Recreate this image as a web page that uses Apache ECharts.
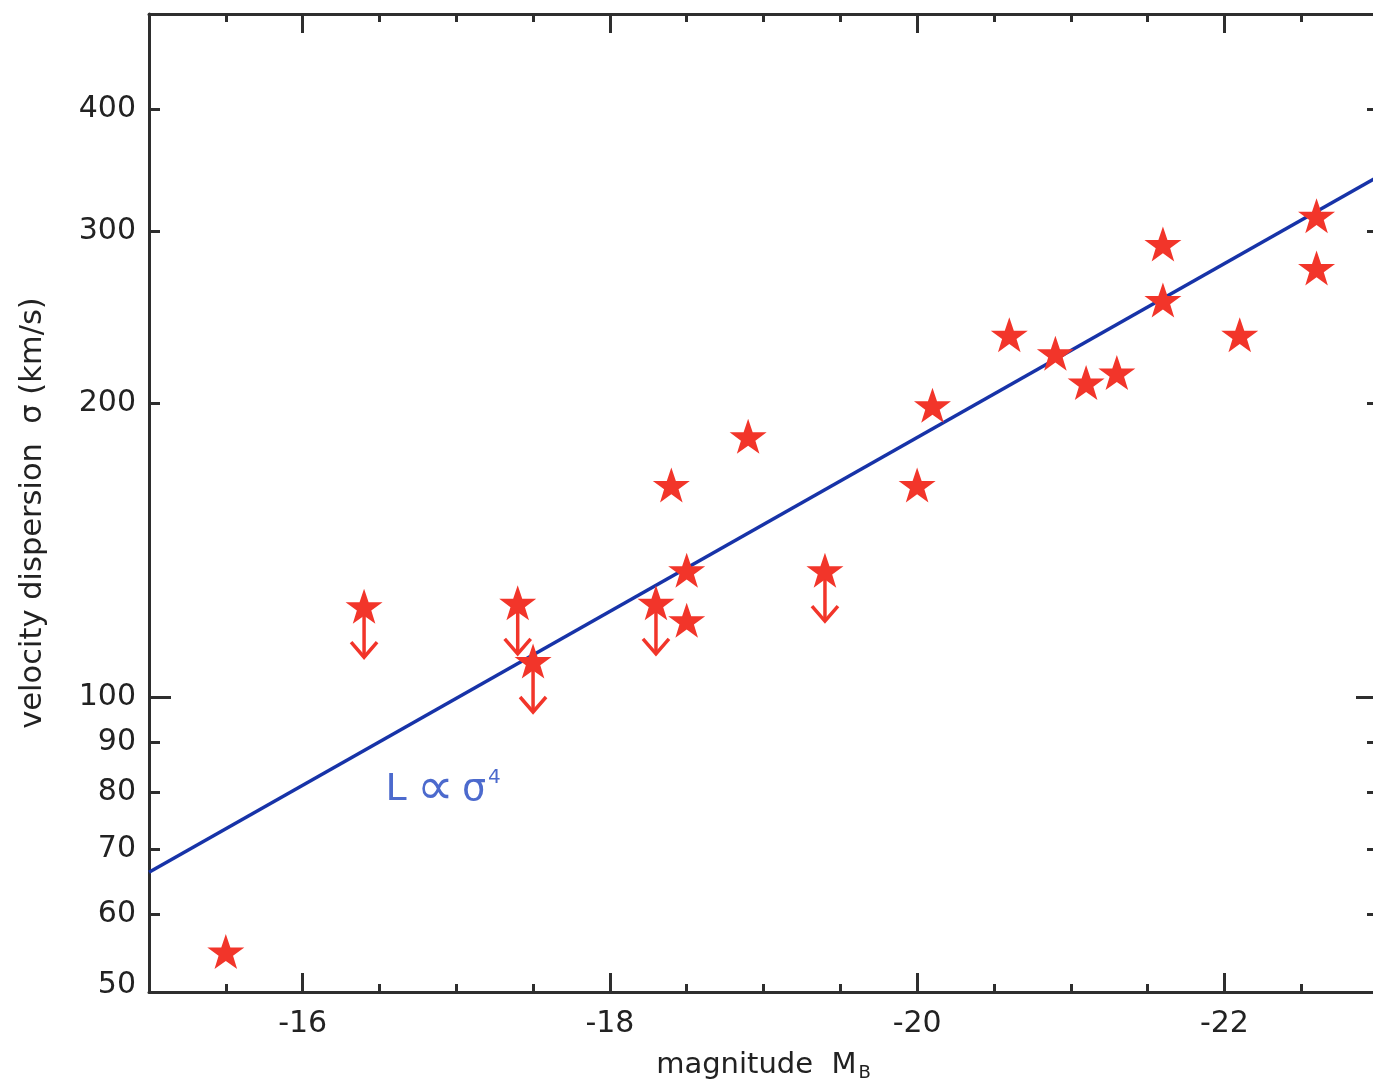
<!DOCTYPE html>
<html>
<head>
<meta charset="utf-8">
<script src="https://cdn.jsdelivr.net/npm/echarts@6/dist/echarts.min.js"></script>
<style>
html,body{margin:0;padding:0;background:#fff;}
#chart{width:1373px;height:1080px;}
</style>
</head>
<body>
<div id="chart"></div>
<script>
// ---- data ----
const magB = [-15.5, -16.4, -17.4, -17.5, -18.3, -18.4, -18.5, -18.5, -18.9, -19.4, -20.0, -20.1, -20.6, -20.9, -21.1, -21.3, -21.6, -21.6, -22.1, -22.6, -22.6];
const sigma = [55, 124, 125, 109, 125, 165, 135, 120, 185, 135, 165, 199, 235, 225, 210, 215, 291, 255, 235, 311, 275];
const isUpperLimit = [0, 1, 1, 1, 1, 0, 0, 0, 0, 1, 0, 0, 0, 0, 0, 0, 0, 0, 0, 0, 0];
const fitMag = [-15, -23];
const fitSigma = [66.3, 341];
const xTickLabels = [-16, -18, -20, -22];
const yTickLabels = [50, 60, 70, 80, 90, 100, 200, 300, 400];
const yMinorTicks = [50, 60, 70, 80, 90, 200, 300, 400];
const yMajorTicks = [100];
const annotationPos = [-16.54, 80.4];

const RED = '#f2352a';
const BLUE = '#1733a8';
const AX = '#2e2e2e';
const TXT = '#222222';
const FONT = 'DejaVu Sans';
const ANN = '#1f45c0';

const starPath = 'path://M50,0 L61.8,35.1 L98.1,35.1 L68.8,56.8 L79.4,91 L50,70 L20.6,91 L31.2,56.8 L1.9,35.1 L38.2,35.1 Z';

const points = magB.map((m, i) => [m, sigma[i]]);
const limits = points.filter((p, i) => isUpperLimit[i]);
const fitLine = fitMag.map((m, i) => [m, fitSigma[i]]);

function xAxisBase(pos, tickLen, tickVals, showLine, showLabel) {
  const ax = {
    type: 'value', position: pos, min: -23, max: -15, inverse: true, interval: 0.5,
    axisLine: {show: showLine, onZero: false, lineStyle: {color: AX, width: 3}},
    axisTick: {show: true, inside: true, length: tickLen, lineStyle: {color: AX, width: 3}},
    axisLabel: {show: false},
    splitLine: {show: false}
  };
  if (tickVals) ax.axisTick.customValues = tickVals;
  if (showLabel) {
    ax.axisLabel = {show: true, customValues: xTickLabels, margin: 17, color: TXT,
      fontFamily: FONT, fontSize: 30, formatter: v => String(v)};
    ax.name = '{t|magnitude  M}{s|B}';
    ax.nameLocation = 'middle';
    ax.nameGap = 56;
    ax.nameTextStyle = {color: TXT, fontFamily: FONT,
      rich: {t: {fontSize: 29, fontFamily: FONT, color: TXT},
             s: {fontSize: 18, fontFamily: FONT, color: TXT, padding: [16, 0, 0, 2]}}};
  }
  return ax;
}

function yAxisBase(pos, tickLen, tickVals, showLine, showLabel) {
  const ax = {
    type: 'log', logBase: 10, position: pos, min: 50, max: 500,
    axisLine: {show: showLine, onZero: false, lineStyle: {color: AX, width: 3}},
    axisTick: {show: true, inside: true, length: tickLen, customValues: tickVals, lineStyle: {color: AX, width: 3}},
    axisLabel: {show: false},
    splitLine: {show: false},
    minorTick: {show: false}
  };
  if (showLabel) {
    ax.axisLabel = {show: true, customValues: yTickLabels, margin: 13, color: TXT,
      fontFamily: FONT, fontSize: 30,
      formatter: v => (Math.round(v) === 50 ? '{b|50}' : String(Math.round(v))),
      rich: {b: {fontFamily: FONT, fontSize: 30, color: TXT, padding: [0, 0, 14, 0]}}};
    ax.name = 'velocity dispersion  σ (km/s)';
    ax.nameLocation = 'middle';
    ax.nameGap = 100;
    ax.nameTextStyle = {color: TXT, fontFamily: FONT, fontSize: 30.5, padding: [0, 20, 0, 0]};
  }
  return ax;
}

const chart = echarts.init(document.getElementById('chart'), null, {renderer: 'canvas'});
chart.setOption({
  backgroundColor: '#ffffff',
  animation: false,
  grid: {left: 149, top: 14, width: 1229, height: 978, containLabel: false, outerBoundsMode: 'none'},
  xAxis: [
    xAxisBase('bottom', 8, null, true, true),
    xAxisBase('bottom', 19, xTickLabels, false, false),
    xAxisBase('top', 8, null, true, false),
    xAxisBase('top', 19, xTickLabels, false, false)
  ],
  yAxis: [
    yAxisBase('left', 11, yMinorTicks, true, true),
    yAxisBase('left', 22, yMajorTicks, false, false),
    yAxisBase('right', 11, yMinorTicks, true, false),
    yAxisBase('right', 22, yMajorTicks, false, false)
  ],
  series: [
    {
      type: 'line', data: fitLine, xAxisIndex: 0, yAxisIndex: 0,
      showSymbol: false, symbol: 'none', lineStyle: {color: BLUE, width: 3.5}, z: 2, silent: true
    },
    {
      type: 'custom', data: limits, xAxisIndex: 0, yAxisIndex: 0, z: 3, silent: true,
      renderItem: function (params, api) {
        const p = api.coord([api.value(0), api.value(1)]);
        return {
          type: 'group',
          children: [
            {type: 'line', shape: {x1: p[0], y1: p[1], x2: p[0], y2: p[1] + 50},
             style: {stroke: RED, lineWidth: 3.5}},
            {type: 'polyline', shape: {points: [[p[0] - 13, p[1] + 36], [p[0], p[1] + 51], [p[0] + 13, p[1] + 36]]},
             style: {stroke: RED, fill: null, lineWidth: 3.5}}
          ]
        };
      }
    },
    {
      type: 'scatter', data: points, xAxisIndex: 0, yAxisIndex: 0, z: 4, silent: true,
      symbol: starPath, symbolSize: [37, 35], itemStyle: {color: RED, opacity: 1}
    },
    {
      type: 'scatter', data: [annotationPos], xAxisIndex: 0, yAxisIndex: 0, z: 5, silent: true,
      symbolSize: 0,
      label: {
        show: true, position: [0, 0], align: 'left', verticalAlign: 'middle',
        formatter: '{l|L}{p|∝}{a|σ}{s|4}',
        rich: {
          l: {fontFamily: FONT, fontSize: 38, color: ANN, padding: [0, 10, 0, 0]},
          p: {fontFamily: FONT, fontSize: 52, color: ANN, padding: [0, 8, 0, 0]},
          a: {fontFamily: FONT, fontSize: 38, color: ANN},
          s: {fontFamily: FONT, fontSize: 20, color: ANN, verticalAlign: 'top', padding: [4, 0, 0, 2]}
        }
      }
    }
  ]
});
</script>
</body>
</html>
